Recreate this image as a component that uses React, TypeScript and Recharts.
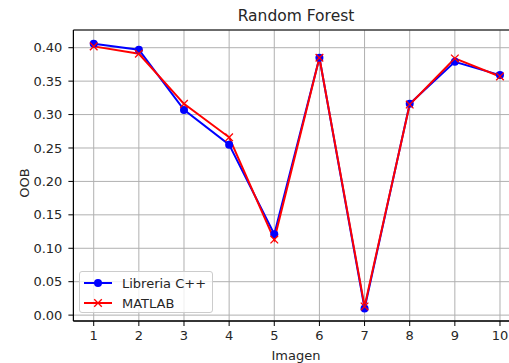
import React from "react";
import {
  CartesianGrid,
  Line,
  LineChart,
  ReferenceArea,
  XAxis,
  YAxis,
} from "recharts";

const imagenes = [1, 2, 3, 4, 5, 6, 7, 8, 9, 10];
const libreriaCpp = [0.406, 0.397, 0.307, 0.255, 0.121, 0.385, 0.01, 0.316, 0.379, 0.359];
const matlab = [0.402, 0.391, 0.316, 0.266, 0.113, 0.385, 0.013, 0.315, 0.384, 0.357];
const yTicks = [0, 0.05, 0.1, 0.15, 0.2, 0.25, 0.3, 0.35, 0.4];

const data = imagenes.map((img, i) => ({
  img,
  cpp: libreriaCpp[i],
  matlab: matlab[i],
}));

const FONT = "'DejaVu Sans', sans-serif";
const TEXT = "#262626";

const CrossDot = (props: any) => {
  const { cx, cy } = props;
  if (cx == null || cy == null) return null;
  const s = 3.8;
  return (
    <g>
      <line x1={cx - s} y1={cy - s} x2={cx + s} y2={cy + s} stroke="#ff0000" strokeWidth={1.3} />
      <line x1={cx - s} y1={cy + s} x2={cx + s} y2={cy - s} stroke="#ff0000" strokeWidth={1.3} />
    </g>
  );
};

const LegendBox = () => (
  <div
    style={{
      position: "absolute",
      left: 79,
      top: 271,
      width: 134,
      height: 42,
      boxSizing: "border-box",
      border: "1px solid #cccccc",
      borderRadius: 3,
      background: "rgba(255,255,255,0.8)",
    }}
  >
    <svg width={132} height={40} style={{ position: "absolute", left: 0, top: 0 }}>
      <line x1={4} y1={11} x2={32} y2={11} stroke="#0000ff" strokeWidth={2} />
      <circle cx={18} cy={11} r={4} fill="#0000ff" />
      <line x1={4} y1={31} x2={32} y2={31} stroke="#ff0000" strokeWidth={2} />
      <line x1={14.2} y1={27.2} x2={21.8} y2={34.8} stroke="#ff0000" strokeWidth={1.3} />
      <line x1={14.2} y1={34.8} x2={21.8} y2={27.2} stroke="#ff0000" strokeWidth={1.3} />
      <text x={42} y={16} fontFamily={FONT} fontSize={13} fill={TEXT}>
        Libreria C++
      </text>
      <text x={42} y={36} fontFamily={FONT} fontSize={13} fill={TEXT}>
        MATLAB
      </text>
    </svg>
  </div>
);

export default function App() {
  return (
    <div
      style={{
        position: "fixed",
        left: 0,
        top: 0,
        width: 509,
        height: 363,
        overflow: "hidden",
        background: "#fff",
        fontFamily: FONT,
      }}
    >
      <LineChart
        width={540}
        height={363}
        data={data}
        margin={{ top: 30, right: 19.7, left: 13.4, bottom: 12 }}
      >
        <CartesianGrid stroke="#b0b0b0" strokeWidth={1} />
        <XAxis
          dataKey="img"
          type="number"
          domain={[0.55, 10.45]}
          ticks={imagenes}
          allowDataOverflow
          height={30}
          tickSize={5}
          tickMargin={5}
          tick={{ fill: TEXT, fontSize: 13, fontFamily: FONT }}
          axisLine={{ stroke: "#000", strokeWidth: 1 }}
          tickLine={{ stroke: "#000", strokeWidth: 1 }}
        />
        <YAxis
          type="number"
          domain={[-0.0088, 0.4265]}
          ticks={yTicks}
          allowDataOverflow
          width={60}
          tickSize={5}
          tickMargin={6}
          tickFormatter={(v: number) => v.toFixed(2)}
          tick={{ fill: TEXT, fontSize: 13, fontFamily: FONT }}
          axisLine={{ stroke: "#000", strokeWidth: 1 }}
          tickLine={{ stroke: "#000", strokeWidth: 1 }}
        />
        <ReferenceArea
          x1={0.55}
          x2={10.45}
          y1={-0.0088}
          y2={0.4265}
          fill="none"
          stroke="#000"
          strokeWidth={1}
        />
        <Line
          dataKey="cpp"
          name="Libreria C++"
          stroke="#0000ff"
          strokeWidth={2}
          dot={{ r: 4, fill: "#0000ff", stroke: "#0000ff", strokeWidth: 0 }}
          activeDot={false}
          isAnimationActive={false}
        />
        <Line
          dataKey="matlab"
          name="MATLAB"
          stroke="#ff0000"
          strokeWidth={2}
          dot={<CrossDot />}
          activeDot={false}
          isAnimationActive={false}
        />
      </LineChart>
      <LegendBox />
      <div
        style={{
          position: "absolute",
          left: 0,
          width: 592,
          top: 7,
          textAlign: "center",
          fontSize: 15.5,
          color: TEXT,
        }}
      >
        Random Forest
      </div>
      <div
        style={{
          position: "absolute",
          left: 24,
          top: 183,
          transform: "translate(-50%, -50%) rotate(-90deg)",
          fontSize: 13,
          color: TEXT,
          whiteSpace: "nowrap",
        }}
      >
        OOB
      </div>
      <div
        style={{
          position: "absolute",
          left: 0,
          width: 592,
          top: 348,
          textAlign: "center",
          fontSize: 13,
          color: TEXT,
        }}
      >
        Imagen
      </div>
    </div>
  );
}
